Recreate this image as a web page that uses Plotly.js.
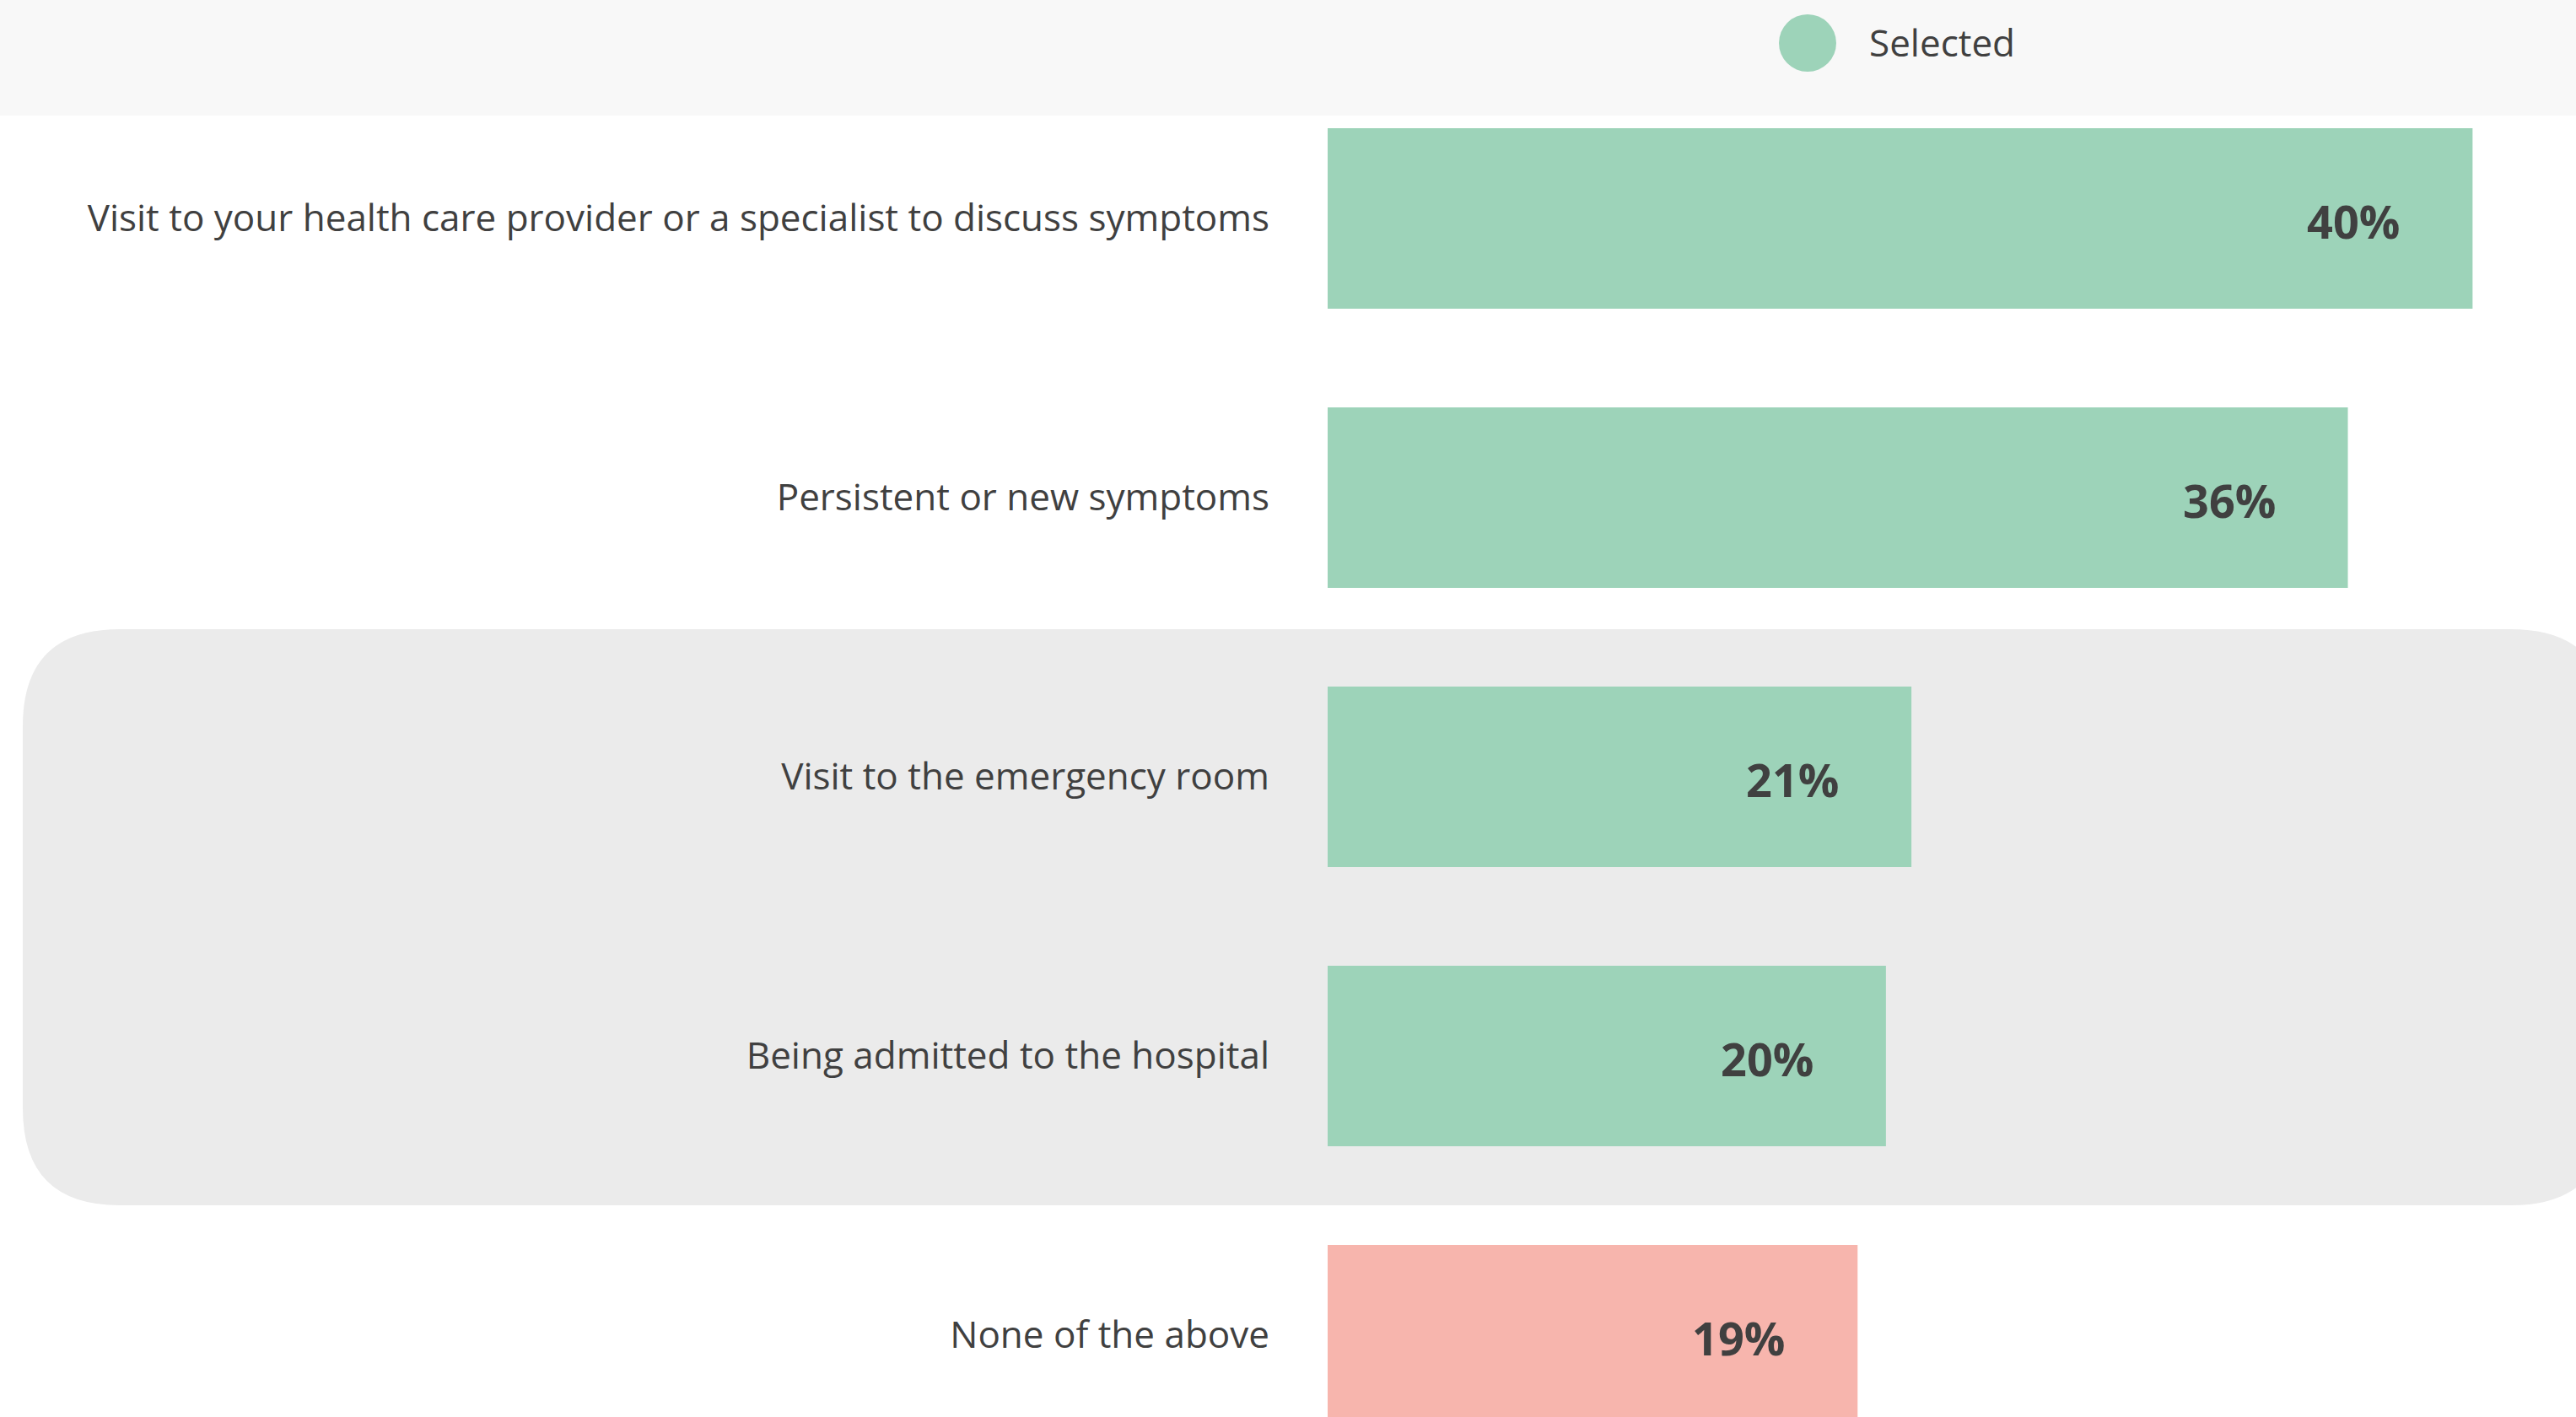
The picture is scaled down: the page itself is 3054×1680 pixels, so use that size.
<!DOCTYPE html>
<html>
<head>
<meta charset="utf-8">
<script src="https://cdn.plot.ly/plotly-3.0.1.min.js"></script>
<style>html,body{margin:0;padding:0;background:#fff;}#chart{width:3054px;height:1680px;}</style>
</head>
<body>
<div id="chart"></div>
<script>
// ---- data ----
const categories = [
  "Visit to your health care provider or a specialist to discuss symptoms",
  "Persistent or new symptoms",
  "Visit to the emergency room",
  "Being admitted to the hospital",
  "None of the above"
];
const values = [40.4, 36.0, 20.6, 19.7, 18.7];
const valueLabels = ["40%", "36%", "21%", "20%", "19%"];
const seriesName = "Selected";

// ---- style ----
const W = 3054, H = 1680;
const ML = 1574;                 // plot area left edge (px)
const PW = W - ML;               // plot width
const GREEN = "#9dd3b9", PINK = "#f7b5ad", TEXT = "#404040";
const barColors = categories.map((c, i) => i === categories.length - 1 ? PINK : GREEN);
const FONT = "Open Sans, Noto Sans, sans-serif";

// pixel -> paper helpers for decoration
const px = x => (x - ML) / PW;
const py = y => 1 - y / H;

function roundedRectPath(x0, y0, x1, y1, r) {
  const rx = r / PW, ry = r / H;
  const X0 = px(x0), X1 = px(x1), Y0 = py(y0), Y1 = py(y1);
  return `M ${X0 + rx} ${Y0} L ${X1 - rx} ${Y0} Q ${X1} ${Y0} ${X1} ${Y0 - ry} ` +
         `L ${X1} ${Y1 + ry} Q ${X1} ${Y1} ${X1 - rx} ${Y1} L ${X0 + rx} ${Y1} ` +
         `Q ${X0} ${Y1} ${X0} ${Y1 + ry} L ${X0} ${Y0 - ry} Q ${X0} ${Y0} ${X0 + rx} ${Y0} Z`;
}

const trace = {
  type: "bar",
  orientation: "h",
  x: values,
  y: categories,
  name: seriesName,
  marker: { color: barColors, line: { width: 0 } },
  hoverinfo: "skip",
  showlegend: false
};

const labelAnnotations = values.map((v, i) => ({
  x: v, y: categories[i], xref: "x", yref: "y",
  text: "<b>" + valueLabels[i] + "</b>",
  showarrow: false, xanchor: "right", yanchor: "middle",
  xshift: -84, yshift: -3,
  font: { family: FONT, size: 54, color: TEXT }
}));

const layout = {
  width: W, height: H,
  margin: { l: ML, r: 0, t: 0, b: 0, pad: 0 },
  paper_bgcolor: "#ffffff",
  plot_bgcolor: "rgba(0,0,0,0)",
  bargap: 0.353,
  showlegend: false,
  xaxis: { range: [0, 44.05], visible: false, fixedrange: true },
  yaxis: {
    type: "category",
    categoryorder: "array",
    categoryarray: categories,
    range: [4.293, -0.7825],
    showgrid: false, zeroline: false, showline: false,
    ticks: "",
    ticklabelstandoff: 68,
    tickfont: { family: FONT, size: 44, color: TEXT },
    fixedrange: true
  },
  shapes: [
    { type: "rect", xref: "paper", yref: "paper", layer: "below",
      x0: px(-10), x1: px(W + 10), y0: py(137), y1: py(-10),
      fillcolor: "#f8f8f8", line: { width: 0 } },
    { type: "path", xref: "paper", yref: "paper", layer: "below",
      path: roundedRectPath(27, 746, 3092, 1429, 115),
      fillcolor: "#ebebeb", line: { width: 0 } },
    { type: "circle", xref: "paper", yref: "paper", layer: "above",
      x0: px(2109), x1: px(2177), y0: py(85), y1: py(17),
      fillcolor: GREEN, line: { width: 0 } }
  ],
  annotations: labelAnnotations.concat([{
    x: px(2214), y: py(50), xref: "paper", yref: "paper",
    text: seriesName, showarrow: false, xanchor: "left", yanchor: "middle",
    font: { family: FONT, size: 44, color: TEXT }
  }])
};

Plotly.newPlot("chart", [trace], layout, { displayModeBar: false, staticPlot: true });
</script>
</body>
</html>
